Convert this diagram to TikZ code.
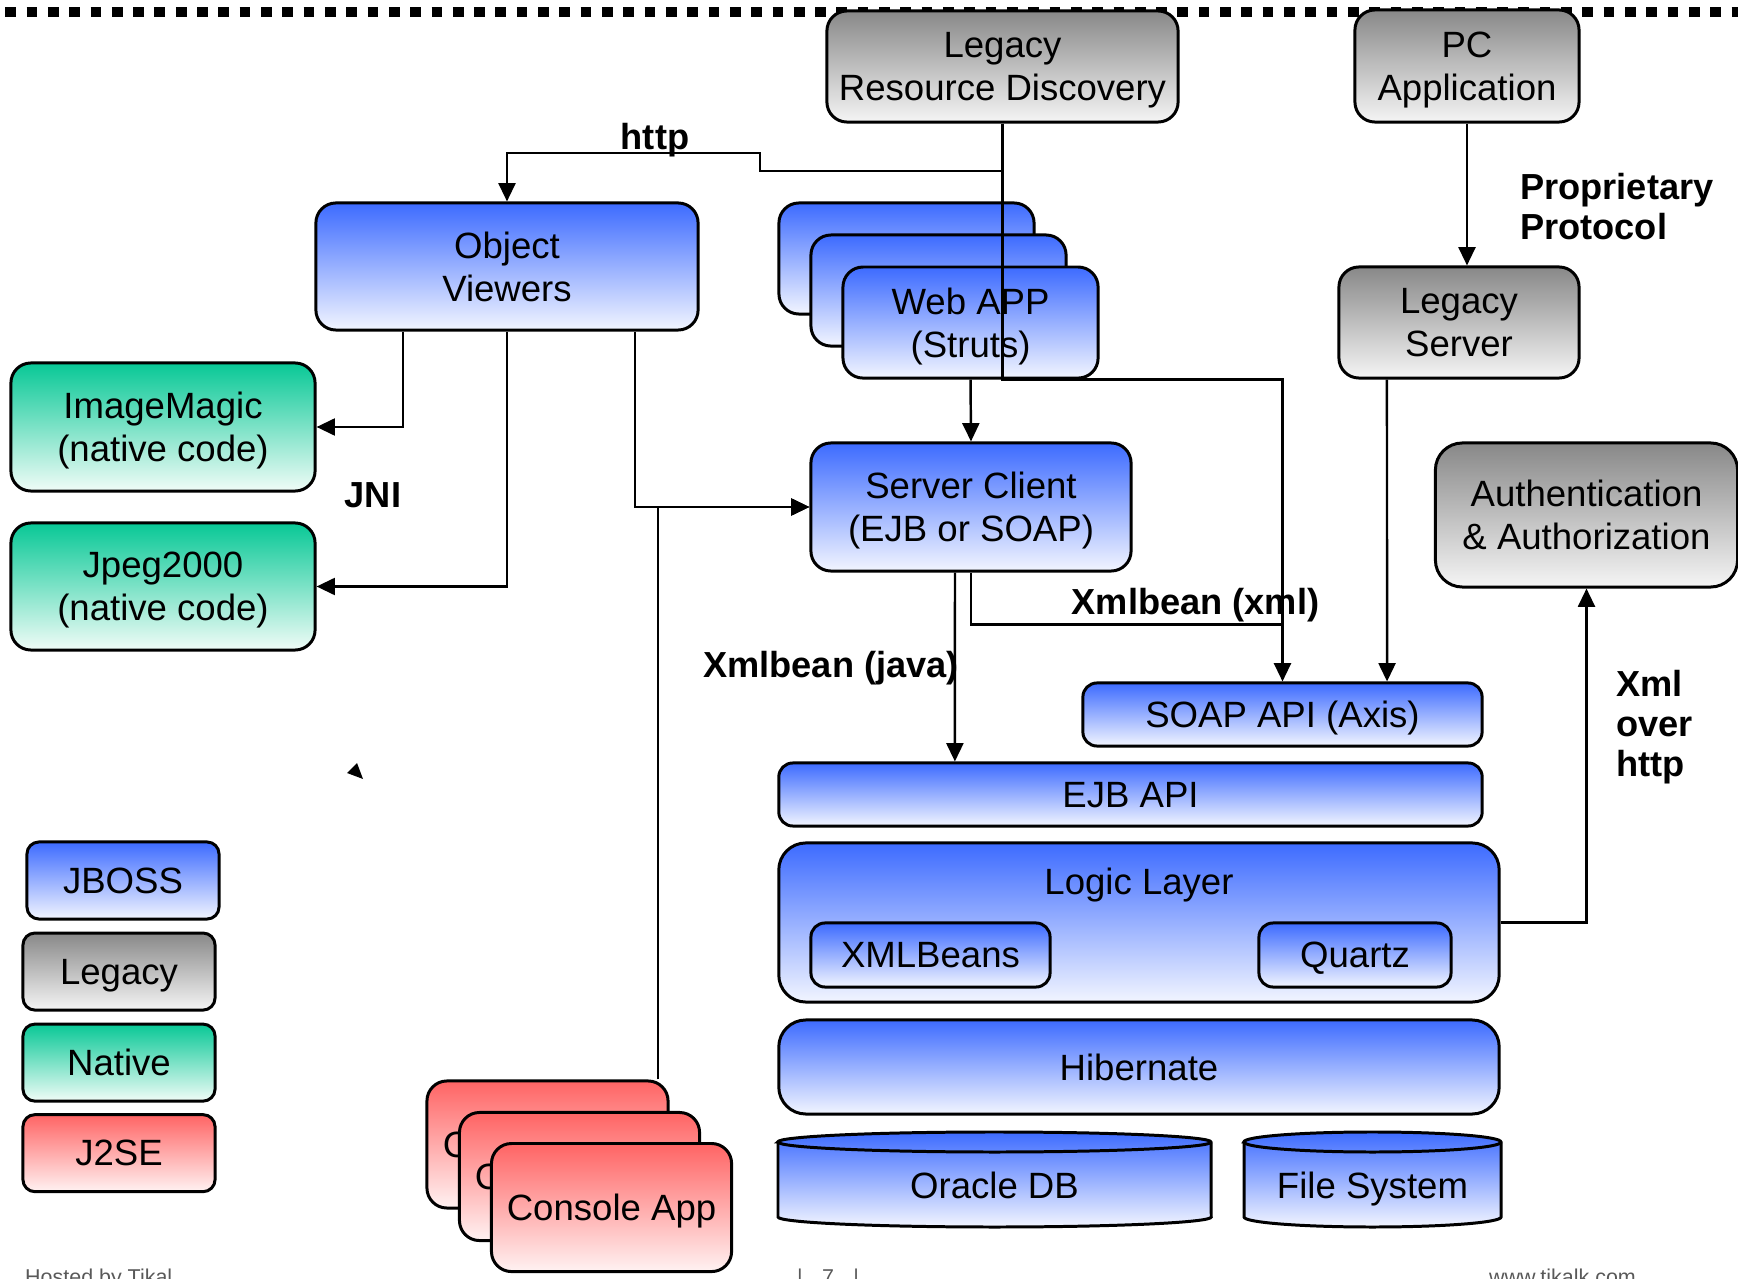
\documentclass[tikz,border=0pt]{standalone}
\usepackage{fontspec}
\setmainfont{Liberation Sans}
\usepackage{xcolor}
\usetikzlibrary{positioning, arrows.meta}

\definecolor{jbtop}{RGB}{61,107,255}
\definecolor{jbbot}{RGB}{242,245,255}
\definecolor{lgtop}{RGB}{136,136,136}
\definecolor{lgbot}{RGB}{245,245,245}
\definecolor{natop}{RGB}{8,200,150}
\definecolor{nabot}{RGB}{240,252,247}
\definecolor{setop}{RGB}{255,100,100}
\definecolor{sebot}{RGB}{255,242,242}

\begin{document}
\begin{tikzpicture}[x=0.01cm, y=-0.01cm, line width=0.7pt, >={Triangle[length=5.2pt,width=4.8pt]},
    box/.style={draw=black, line width=0.85pt, rounded corners=0.2cm, inner sep=0pt, align=center, text depth=0pt, font=\fontsize{10.4}{12.2}\selectfont},
    jboss/.style={box, top color=jbtop, bottom color=jbbot},
    legacy/.style={box, top color=lgtop, bottom color=lgbot},
    native/.style={box, top color=natop, bottom color=nabot},
    j2se/.style={box, top color=setop, bottom color=sebot},
    txt/.style={font=\fontsize{10.4}{12.2}\selectfont, inner sep=0pt, text depth=0pt},
    lbl/.style={font=\bfseries\fontsize{10.3}{11.4}\selectfont, inner sep=0pt, align=left},
    foot/.style={font=\fontsize{6.1}{7}\selectfont, text=black!65, inner sep=0pt, anchor=north west}]

    \useasboundingbox (0,0) rectangle (1738,1279);
    \draw[line width=0.107cm, dash pattern=on 0.107cm off 0.106cm] (5.3,12) -- (1738,12);

    % top row
    \node[legacy, minimum width=3.51cm, minimum height=1.11cm] (lrd) at (1002.5,66.5) {Legacy\\Resource Discovery};
    \node[legacy, minimum width=2.24cm, minimum height=1.12cm] (pc) at (1467,66) {PC\\Application};

    \node[jboss, minimum width=3.82cm, minimum height=1.27cm] (ov) at (507,266.5) {Object\\Viewers};
    \node[jboss, minimum width=2.55cm, minimum height=1.11cm] (web1) at (906.5,258.5) {};
    \node[jboss, minimum width=2.55cm, minimum height=1.11cm, on grid, below right=0.32cm and 0.32cm of web1] (web2) {};
    \node[jboss, minimum width=2.55cm, minimum height=1.11cm, on grid, below right=0.32cm and 0.32cm of web2] (web3) {Web APP\\(Struts)};
    \node[legacy, minimum width=2.40cm, minimum height=1.11cm] (ls) at (1459,322.5) {Legacy\\Server};

    \node[native, minimum width=3.04cm, minimum height=1.28cm] (im) at (163,427) {ImageMagic\\(native code)};
    \node[native, minimum width=3.04cm, minimum height=1.27cm] (jp) at (163,586.5) {Jpeg2000\\(native code)};
    \node[jboss, minimum width=3.20cm, minimum height=1.28cm] (sc) at (971,507) {Server Client\\(EJB or SOAP)};
    \node[legacy, rounded corners=0.27cm, minimum width=3.02cm, minimum height=1.44cm] (auth) at (1586.5,515) {Authentication\\\& Authorization};

    % server side
    \node[jboss, rounded corners=0.14cm, minimum width=3.99cm, minimum height=0.63cm] (soap) at (1282.5,714.5) {SOAP API (Axis)};
    \node[jboss, rounded corners=0.14cm, minimum width=7.03cm, minimum height=0.63cm] (ejb) at (1130.5,794.5) {EJB API};
    \node[jboss, rounded corners=0.27cm, minimum width=7.20cm, minimum height=1.59cm] (logic) at (1139,922.5) {};
    \node[txt] (logictxt) at (1139,881) {Logic Layer};
    \node[jboss, rounded corners=0.14cm, minimum width=2.39cm, minimum height=0.64cm] (xb) at (930.5,955) {XMLBeans};
    \node[jboss, rounded corners=0.14cm, minimum width=1.92cm, minimum height=0.64cm] (qz) at (1355,955) {Quartz};
    \node[jboss, rounded corners=0.27cm, minimum width=7.20cm, minimum height=0.94cm] (hib) at (1139,1067) {Hibernate};

    % storage
    \path[top color=jbtop, bottom color=jbbot, draw=black, line width=0.85pt] (778,1142) -- (778,1217)
        arc[start angle=180, end angle=360, x radius=2.165cm, y radius=0.1cm] -- (1211,1142)
        arc[start angle=0, end angle=180, x radius=2.165cm, y radius=0.1cm] -- cycle;
    \draw[line width=0.85pt] (778,1142) arc[start angle=180, end angle=360, x radius=2.165cm, y radius=0.1cm];
    \node[txt] (ora) at (994.5,1185) {Oracle DB};
    \path[top color=jbtop, bottom color=jbbot, draw=black, line width=0.85pt] (1244,1142) -- (1244,1217)
        arc[start angle=180, end angle=360, x radius=1.285cm, y radius=0.1cm] -- (1501,1142)
        arc[start angle=0, end angle=180, x radius=1.285cm, y radius=0.1cm] -- cycle;
    \draw[line width=0.85pt] (1244,1142) arc[start angle=180, end angle=360, x radius=1.285cm, y radius=0.1cm];
    \node[txt] (fs) at (1372.5,1185) {File System};

    % legend
    \node[jboss, rounded corners=0.12cm, minimum width=1.92cm, minimum height=0.77cm] (jb) at (123,880.5) {JBOSS};
    \node[legacy, rounded corners=0.12cm, minimum width=1.92cm, minimum height=0.77cm, on grid, below left=0.91cm and 0.04cm of jb] (lg) {Legacy};
    \node[native, rounded corners=0.12cm, minimum width=1.92cm, minimum height=0.77cm, on grid, below=0.91cm of lg] (na) {Native};
    \node[j2se, rounded corners=0.12cm, minimum width=1.92cm, minimum height=0.77cm, on grid, below=0.905cm of na] (se) {J2SE};

    % console apps
    \node[j2se, minimum width=2.41cm, minimum height=1.27cm] (con1) at (547.5,1144.5) {Console App};
    \node[j2se, minimum width=2.40cm, minimum height=1.28cm, on grid, below right=0.32cm and 0.32cm of con1] (con2) {Console App};
    \node[j2se, minimum width=2.40cm, minimum height=1.28cm, on grid, below right=0.31cm and 0.32cm of con2] (con3) {Console App};

    \fill (347,773) -- (357,763) -- (363,779) -- cycle;

    % connectors
    \draw[->] (lrd.south) |- (760,171) -- (760,153) -| (ov.north);
    \draw[->] (lrd.south) |- (soap.north |- web3.south) -- (soap.north);
    \draw[->] (web3.south) -- (sc.north);
    \draw[->] ([xshift=-1.04cm]ov.south) |- (im.east);
    \draw[->] (ov.south) |- (jp.east);
    \draw[->] ([xshift=1.28cm]ov.south) |- (sc.west);
    \draw[->] ([xshift=1.105cm]con1.north) |- (sc.west);
    \draw[->] ([xshift=-0.16cm]sc.south) -- ([xshift=-1.755cm]ejb.north);
    \draw (sc.south) |- ([yshift=0.57cm]soap.north);
    \draw[->] ([xshift=-0.72cm]ls.south) -- ([xshift=1.045cm]soap.north);
    \draw[->] (pc.south) -- (pc.south |- ls.north);
    \draw[->] (logic.east) -| (auth.south);

    % labels
    \node[lbl, anchor=base] (http) at (655,150) {http};
    \node[lbl, anchor=base] (jni) at (373,508) {JNI};
    \node[lbl, anchor=base] (xxml) at (1195.5,615) {Xmlbean (xml)};
    \node[lbl, anchor=base] (xjava) at (831,678) {Xmlbean (java)};
    \node[lbl, anchor=north west] (prop) at (1519,172) {Proprietary\\Protocol};
    \node[lbl, anchor=north west] (xoh) at (1615,669) {Xml\\over\\http};

    \node[foot] (host) at (24,1268) {Hosted by Tikal};
    \node[foot] (page) at (796,1268) {|\hspace{0.9em}7\hspace{0.9em}|};
    \node[foot] (www) at (1488,1268) {www.tikalk.com};
\end{tikzpicture}
\end{document}
